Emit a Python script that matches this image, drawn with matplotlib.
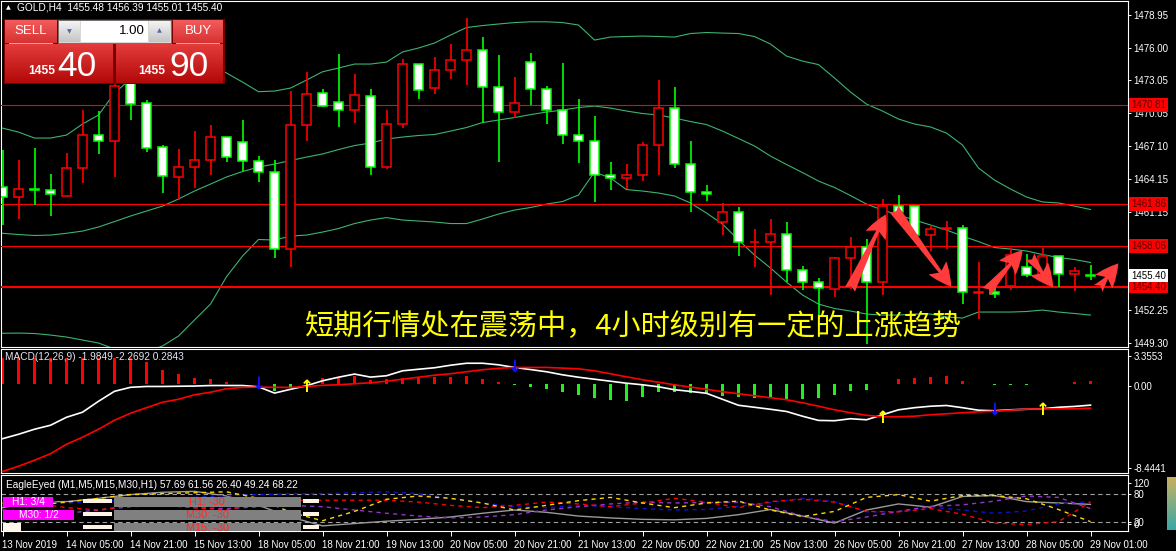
import numpy as np
import matplotlib
matplotlib.use("Agg")
import matplotlib.pyplot as plt
from matplotlib.patches import Rectangle, FancyArrowPatch
from matplotlib.colors import to_rgb

plt.rcParams['font.family'] = ['Liberation Sans', 'DejaVu Sans']

# ---------------- data ----------------
header_text = "GOLD,H4  1455.48 1456.39 1455.01 1455.40"
time_labels = ["13 Nov 2019", "14 Nov 05:00", "14 Nov 21:00", "15 Nov 13:00", "18 Nov 05:00",
               "18 Nov 21:00", "19 Nov 13:00", "20 Nov 05:00", "20 Nov 21:00", "21 Nov 13:00",
               "22 Nov 05:00", "22 Nov 21:00", "25 Nov 13:00", "26 Nov 05:00", "26 Nov 21:00",
               "27 Nov 13:00", "28 Nov 05:00", "29 Nov 01:00"]
label_bars = list(range(0, 69, 4))

opens = [1463.43, 1462.52, 1463.20, 1463.10, 1462.62, 1465.09, 1468.07, 1467.53, 1473.00, 1470.97,
         1466.99, 1464.28, 1465.18, 1465.81, 1467.89, 1467.44, 1465.72, 1464.73, 1457.80, 1468.98,
         1471.87, 1471.06, 1470.33, 1471.60, 1465.18, 1469.07, 1474.49, 1472.32, 1473.95, 1474.85,
         1475.76, 1472.41, 1470.15, 1474.67, 1472.23, 1470.33, 1468.07, 1467.53, 1464.46, 1464.19,
         1464.46, 1467.17, 1470.51, 1465.45, 1462.92, 1460.21, 1461.11, 1458.40, 1458.40, 1459.13,
         1455.87, 1454.79, 1454.15, 1456.95, 1457.95, 1454.79, 1461.71, 1461.66, 1459.04, 1459.58,
         1459.67, 1453.85, 1453.88, 1454.42, 1456.14, 1455.30, 1457.14, 1455.51, 1455.48]
highs = [1466.75, 1465.84, 1466.95, 1464.58, 1466.45, 1470.36, 1470.27, 1474.00, 1474.20, 1471.27,
         1467.17, 1466.84, 1468.46, 1469.01, 1467.95, 1469.46, 1466.23, 1465.84, 1472.11, 1473.83,
         1472.23, 1475.42, 1473.62, 1472.23, 1470.36, 1474.94, 1474.55, 1475.13, 1476.33, 1478.65,
         1476.96, 1475.31, 1473.32, 1475.51, 1472.50, 1474.61, 1471.33, 1469.82, 1465.63, 1465.48,
         1467.44, 1473.07, 1472.41, 1467.53, 1463.55, 1461.93, 1461.57, 1459.58, 1460.48, 1460.24,
         1456.29, 1455.20, 1457.05, 1458.85, 1458.67, 1462.29, 1462.65, 1461.70, 1459.94, 1460.35,
         1459.94, 1456.59, 1454.48, 1457.86, 1457.32, 1457.86, 1457.20, 1456.14, 1456.39]
lows = [1459.97, 1460.51, 1461.77, 1460.78, 1462.50, 1463.79, 1466.38, 1464.28, 1469.46, 1466.59,
        1462.89, 1462.23, 1463.34, 1464.51, 1465.69, 1464.82, 1463.88, 1457.01, 1456.14, 1467.59,
        1470.61, 1468.82, 1469.16, 1464.51, 1465.00, 1468.71, 1471.33, 1471.78, 1473.16, 1472.59,
        1469.16, 1465.66, 1469.67, 1470.79, 1469.10, 1467.29, 1465.57, 1462.07, 1463.16, 1463.25,
        1463.97, 1464.46, 1465.09, 1461.11, 1462.16, 1459.09, 1457.19, 1456.14, 1453.61, 1454.84,
        1454.09, 1451.50, 1453.43, 1454.21, 1449.20, 1453.61, 1460.21, 1459.00, 1457.64, 1457.77,
        1452.85, 1451.44, 1453.34, 1454.06, 1455.24, 1455.00, 1454.33, 1453.97, 1455.01]
closes = [1462.52, 1463.19, 1463.12, 1462.74, 1465.09, 1468.07, 1467.53, 1472.50, 1470.88, 1466.90,
          1464.37, 1465.18, 1465.81, 1467.92, 1466.09, 1465.72, 1464.73, 1457.80, 1468.98, 1471.78,
          1470.72, 1470.33, 1471.69, 1465.18, 1469.07, 1474.49, 1472.14, 1473.95, 1474.85, 1475.76,
          1472.41, 1470.15, 1470.97, 1472.23, 1470.33, 1468.07, 1467.53, 1464.46, 1464.19, 1464.46,
          1467.17, 1470.51, 1465.45, 1462.92, 1462.74, 1461.11, 1458.40, 1458.45, 1459.13, 1455.87,
          1454.79, 1454.24, 1456.95, 1457.95, 1454.79, 1461.71, 1461.11, 1459.04, 1459.58, 1459.68,
          1453.88, 1453.92, 1453.70, 1457.23, 1455.42, 1457.16, 1455.51, 1455.78, 1455.40]

bb_upper = [1468.73, 1468.37, 1467.83, 1467.83, 1468.10, 1469.10, 1469.91, 1471.90, 1473.16, 1473.98,
            1474.34, 1474.70, 1474.70, 1474.52, 1473.71, 1472.89, 1472.02, 1472.08, 1472.35, 1473.07,
            1473.82, 1474.16, 1474.52, 1474.52, 1474.70, 1475.61, 1475.97, 1476.42, 1477.14, 1477.82,
            1478.00, 1478.14, 1478.27, 1478.34, 1478.34, 1478.27, 1478.05, 1476.69, 1476.96, 1477.01,
            1477.05, 1477.01, 1476.96, 1477.28, 1477.37, 1477.32, 1477.28, 1477.01, 1476.33, 1475.24,
            1474.79, 1474.47, 1473.26, 1471.99, 1470.90, 1470.27, 1469.55, 1469.10, 1468.83, 1468.28,
            1467.20, 1465.12, 1464.03, 1463.22, 1462.50, 1462.05, 1461.96, 1461.68, 1461.37]
bb_middle = [1459.22, 1459.11, 1459.02, 1459.06, 1459.22, 1459.42, 1459.79, 1460.28, 1460.78, 1461.23,
             1461.68, 1462.32, 1463.04, 1463.67, 1464.31, 1464.80, 1465.21, 1465.48, 1465.80, 1466.11,
             1466.39, 1466.79, 1467.15, 1467.38, 1467.74, 1467.92, 1468.06, 1468.15, 1468.46, 1468.78,
             1469.23, 1469.46, 1469.68, 1469.95, 1470.18, 1470.36, 1470.59, 1470.72, 1470.54, 1470.27,
             1470.05, 1469.91, 1469.64, 1469.32, 1469.05, 1468.46, 1467.79, 1467.11, 1466.20, 1465.44,
             1464.71, 1463.94, 1463.36, 1462.63, 1461.86, 1461.32, 1460.87, 1460.42, 1459.97, 1459.51,
             1458.97, 1458.47, 1457.93, 1457.80, 1457.62, 1457.30, 1457.03, 1456.85, 1456.58]
bb_lower = [1450.18, 1450.20, 1450.16, 1450.02, 1449.84, 1449.57, 1449.30, 1448.76, 1448.40, 1448.49,
            1449.03, 1449.93, 1451.38, 1452.82, 1455.29, 1457.16, 1458.66, 1458.61, 1458.97, 1459.06,
            1459.33, 1459.65, 1460.10, 1460.42, 1460.64, 1460.42, 1460.33, 1460.24, 1460.10, 1460.10,
            1460.51, 1460.96, 1461.32, 1461.55, 1461.86, 1462.09, 1462.68, 1464.76, 1464.21, 1463.17,
            1463.04, 1462.86, 1462.59, 1461.96, 1461.05, 1460.06, 1458.61, 1457.25, 1456.08, 1454.81,
            1453.64, 1452.82, 1452.42, 1452.19, 1451.92, 1451.83, 1451.83, 1451.92, 1451.92, 1451.65,
            1451.56, 1452.10, 1452.10, 1452.10, 1452.15, 1452.28, 1452.10, 1451.97, 1451.83]

level_prices = [1470.81, 1461.86, 1458.06, 1454.40]
price_ticks = [1478.95, 1476.00, 1473.05, 1470.05, 1467.10, 1464.15, 1461.15, 1458.20, 1455.25, 1452.25, 1449.30]
bid_price = 1455.40

arrow_tails = [(52.97, 1454.15), (55.72, 1461.40), (61.50, 1453.94), (64.22, 1457.10), (68.49, 1454.24)]
arrow_heads = [(55.20, 1460.93), (59.30, 1454.39), (63.76, 1457.70), (65.67, 1454.33), (69.74, 1456.50)]

annotation_text = "短期行情处在震荡中，4小时级别有一定的上涨趋势"

macd_label = "MACD(12,26,9) -1.9849 -2.2692 0.2843"
macd_hist = [2.47, 2.47, 2.47, 2.47, 2.47, 2.47, 2.47, 2.47, 2.47, 2.09,
             1.36, 0.98, 0.64, 0.50, 0.22, 0.05, 0.02, -0.67, -0.24, 0.31,
             0.57, 0.64, 0.83, 0.41, 0.48, 0.57, 0.64, 0.67, 0.73, 0.79,
             0.50, 0.26, -0.07, -0.26, -0.48, -0.69, -1.02, -1.26, -1.52, -1.59,
             -1.21, -0.69, -0.73, -0.86, -0.95, -1.11, -1.17, -1.33, -1.33, -1.43,
             -1.43, -1.33, -1.02, -0.64, -0.57, 0.05, 0.50, 0.64, 0.67, 0.79,
             0.31, 0.07, -0.07, -0.07, -0.07, 0.07, 0.07, 0.19, 0.2843]
macd_main = [-5.18, -4.76, -4.28, -3.90, -3.14, -2.66, -1.62, -0.67, -0.29, -0.21,
             -0.21, -0.19, -0.17, -0.12, -0.12, -0.12, -0.24, -0.84, -0.48, -0.14,
             0.33, 0.67, 0.97, 0.68, 0.81, 1.28, 1.43, 1.57, 1.81, 2.00,
             2.00, 1.85, 1.60, 1.40, 1.19, 0.90, 0.67, 0.48, 0.29, 0.10,
             -0.05, -0.24, -0.52, -0.68, -0.86, -1.43, -2.00, -2.19, -2.38, -2.59,
             -3.04, -3.44, -3.47, -3.28, -3.38, -2.90, -2.43, -2.23, -2.09, -2.02,
             -2.23, -2.47, -2.52, -2.43, -2.38, -2.33, -2.19, -2.11, -1.9849]
macd_signal = [-8.30, -7.80, -7.23, -6.61, -5.71, -5.04, -4.28, -3.42, -2.76, -2.23,
               -1.71, -1.43, -1.00, -0.76, -0.43, -0.30, -0.27, -0.29, -0.30, -0.21,
               -0.10, -0.05, 0.05, 0.14, 0.29, 0.48, 0.67, 0.86, 1.00, 1.19,
               1.38, 1.52, 1.60, 1.60, 1.60, 1.54, 1.47, 1.28, 1.00, 0.71,
               0.43, 0.19, -0.05, -0.27, -0.48, -0.71, -0.90, -1.09, -1.28, -1.47,
               -1.76, -2.09, -2.43, -2.71, -2.95, -3.09, -3.09, -3.04, -2.90, -2.81,
               -2.71, -2.62, -2.57, -2.47, -2.36, -2.35, -2.34, -2.33, -2.2692]
macd_max, macd_min = 3.3553, -8.4441
sell_signals = [(16, 0.03), (32, 1.69), (62, -2.40)]
buy_signals = [(19, -0.26), (55, -3.21), (65, -2.45)]

eagle_label = "EagleEyed (M1,M5,M15,M30,H1) 57.69 61.56 26.40 49.24 68.22"
eagle_bars = list(range(0, 69, 2))
eagle_yellow = [60, 55, 62, 70, 78, 80, 82, 84, 70, 40, 22, 42, 68, 75, 70, 60, 45, 55, 65, 72,
                60, 50, 60, 64, 45, 31, 42, 72, 78, 64, 76, 76, 69, 46, 20]
eagle_red = [55, 60, 50, 45, 55, 60, 50, 45, 60, 66, 66, 66, 66, 62, 55, 50, 55, 62, 58, 52,
             60, 70, 62, 50, 63, 68, 62, 42, 41, 48, 36, 17, 14, 20, 62]
eagle_blue = [70, 65, 60, 62, 68, 70, 72, 76, 78, 80, 80, 82, 84, 80, 70, 60, 52, 50, 55, 52,
              48, 45, 46, 53, 61, 70, 63, 41, 41, 51, 45, 38, 43, 58, 63]
eagle_purple = [45, 40, 38, 45, 52, 55, 50, 48, 52, 55, 52, 45, 38, 32, 28, 30, 35, 45, 52, 58,
                62, 60, 61, 62, 52, 32, 20, 30, 42, 53, 56, 64, 75, 72, 48]
eagle_grey = [50, 63, 63, 70, 78, 83, 85, 75, 55, 30, 11, 16, 21, 25, 30, 38, 45, 40, 32, 28,
              25, 24, 27, 35, 46, 32, 17, 45, 58, 51, 74, 76, 63, 60, 57]
eagle_levels = [80, 20]
eagle_rows = [("H1: 3/4", "H1: -30"), ("M30: 1/2", "M30: -30"), ("", "M15: -30")]

# ---------------- layout helpers ----------------
W, H, DPI = 1176, 551, 100
fig = plt.figure(figsize=(W / DPI, H / DPI), dpi=DPI, facecolor='black')


def rect_px(x0, y0, x1, y1):
    return [x0 / W, 1 - y1 / H, (x1 - x0) / W, (y1 - y0) / H]


BAR0, STEP = 2.5, 16.0
XL = ((1 - BAR0) / STEP, (1128 - BAR0) / STEP)
x = np.arange(len(opens))


def style(a):
    a.set_facecolor('black')
    for s in a.spines.values():
        s.set_color('white')
        s.set_linewidth(0.8)
    a.set_xlim(*XL)
    a.tick_params(axis='x', bottom=False, labelbottom=False)
    a.yaxis.tick_right()
    a.tick_params(axis='y', colors='white', labelcolor='white', labelsize=7,
                  length=2.5, width=0.7, pad=1.5)


# ---------------- main price panel ----------------
ax = fig.add_axes(rect_px(1, 1, 1128, 347))
style(ax)
ax.set_ylim(1448.94, 1480.22)
ax.set_yticks(price_ticks)
ax.set_yticklabels([f"{v:.2f}" for v in price_ticks])

bcol = '#3CB371'
ax.plot(x, bb_upper, color=bcol, lw=0.8, zorder=2)
ax.plot(x, bb_middle, color=bcol, lw=0.8, zorder=2)
ax.plot(x, bb_lower, color=bcol, lw=0.8, zorder=2)

for k, lvl in enumerate(level_prices):
    ax.axhline(lvl, color='#FF0000', lw=1.5 if k == len(level_prices) - 1 else 0.8, zorder=3)

bw = 0.56
for i in range(len(opens)):
    o, h, l, c = opens[i], highs[i], lows[i], closes[i]
    bull = c > o
    ec = '#FF0000' if bull else '#00FF00'
    fc = 'black' if bull else 'white'
    ax.plot([i, i], [l, h], color=ec, lw=1.2, zorder=4, solid_capstyle='butt')
    ax.add_patch(Rectangle((i - bw / 2, min(o, c)), bw, abs(c - o), fc=fc, ec=ec, lw=1.1, zorder=5))

for (tx, ty), (hx, hy) in zip(arrow_tails, arrow_heads):
    ax.add_patch(FancyArrowPatch((tx, ty), (hx, hy),
                                 arrowstyle='fancy,head_length=0.8,head_width=0.75,tail_width=0.38',
                                 mutation_scale=21, color='#FF3B3B', lw=0, zorder=7,
                                 shrinkA=0, shrinkB=0))

for lvl in level_prices:
    ax.annotate(f"{lvl:.2f}", xy=(1, lvl), xycoords=('axes fraction', 'data'),
                xytext=(2.2, 0), textcoords='offset points', ha='left', va='center',
                fontsize=7, color='#5A0000',
                bbox=dict(boxstyle='square,pad=0.18', fc='#FF0000', ec='none'),
                annotation_clip=False, zorder=10)
ax.annotate(f"{bid_price:.2f}", xy=(1, bid_price), xycoords=('axes fraction', 'data'),
            xytext=(2.2, 0), textcoords='offset points', ha='left', va='center',
            fontsize=7, color='black',
            bbox=dict(boxstyle='square,pad=0.18', fc='white', ec='none'),
            annotation_clip=False, zorder=10)

# ---------------- MACD panel ----------------
am = fig.add_axes(rect_px(1, 349, 1128, 473))
style(am)
am.set_ylim(macd_min, macd_max)
hcols = ['#FF0000' if v >= 0 else '#22EE22' for v in macd_hist]
am.bar(x, macd_hist, width=0.22, color=hcols, zorder=2)
am.plot(x, macd_main, color='white', lw=1.2, zorder=3)
am.plot(x, macd_signal, color='#FF0000', lw=1.2, zorder=3)
for (bi, v) in sell_signals:
    am.text(bi, v, "↓", color='#1010FF', fontsize=12, fontweight='bold', ha='center', va='center',
            family='DejaVu Sans', zorder=5)
for (bi, v) in buy_signals:
    am.text(bi, v, "↑", color='#FFFF00', fontsize=12, fontweight='bold', ha='center', va='center',
            family='DejaVu Sans', zorder=5)
am.set_yticks([2.69, -0.13, -7.94])
am.set_yticklabels([f"{macd_max:.4f}", "0.00", f"{macd_min:.4f}"])

# ---------------- EagleEyed panel ----------------
ae = fig.add_axes(rect_px(1, 475, 1128, 531))
style(ae)
ae.set_ylim(0, 120)
for lv in eagle_levels:
    ae.axhline(lv, color='#A0A0A0', lw=0.8, ls=(0, (4, 3)), zorder=1)
ae.plot(eagle_bars, eagle_grey, color='#9A9A9A', lw=1.0, zorder=2)
ae.plot(eagle_bars, eagle_blue, color='#1010D0', lw=1.0, ls=(0, (3, 3)), zorder=3)
ae.plot(eagle_bars, eagle_purple, color='#9932CC', lw=1.0, ls=(0, (3, 3)), zorder=3)
ae.plot(eagle_bars, eagle_red, color='#FF0000', lw=1.0, ls=(0, (3, 3)), zorder=3)
ae.plot(eagle_bars, eagle_yellow, color='#FFD700', lw=1.0, ls=(0, (3, 3)), zorder=3)
ae.set_yticks([103.5, 80, 20, 14.4])
ae.set_yticklabels(["120", "80", "20", "0"])
ae.tick_params(axis='x', bottom=True, labelbottom=True, colors='white', labelcolor='white',
               labelsize=7, length=3.5, width=0.7, pad=3, direction='out')
ae.set_xticks(label_bars)
ae.set_xticklabels(time_labels, ha='left')

# ---------------- overlay (pixel coordinates) ----------------
ov = fig.add_axes([0, 0, 1, 1])
ov.set_axis_off()
ov.patch.set_alpha(0)


def box(x0, y0, x1, y1, fc, ec='none', lw=0.0, z=20):
    ov.add_patch(Rectangle((x0, y0), x1 - x0, y1 - y0, fc=fc, ec=ec, lw=lw, zorder=z))


def grad(x0, y0, x1, y1, ctop, cbot, z=20):
    t = np.linspace(0, 1, 64)[:, None]
    c0, c1 = np.array(to_rgb(ctop)), np.array(to_rgb(cbot))
    img = (c0 * (1 - t) + c1 * t)[:, None, :]
    ov.imshow(img, extent=(x0, x1, y1, y0), origin='upper', aspect='auto',
              zorder=z, interpolation='bilinear')


# header
ov.text(8, 8, "▲", color='white', fontsize=4.5, ha='center', va='center', family='DejaVu Sans', zorder=30)
ov.text(17, 8, header_text, color='white', fontsize=7.3, ha='left', va='center', zorder=30)

# trade panel
box(4, 19, 225, 84, '#7A0000', z=19)
grad(5, 20, 57, 43, '#F45C5C', '#D63232')
grad(173, 20, 223, 43, '#F45C5C', '#D63232')
grad(5, 44, 113, 83, '#E43C3C', '#B20808')
grad(116, 44, 223, 83, '#E43C3C', '#B20808')
box(9, 42.5, 53, 43.5, '#F49A9A', z=21)
box(176, 42.5, 220, 43.5, '#F49A9A', z=21)
box(58, 20, 171, 43, '#D8D8D8', ec='#707070', lw=0.6, z=21)
grad(59, 21, 80, 42, '#F4F4F4', '#C4C4C4', z=22)
grad(149, 21, 170, 42, '#F4F4F4', '#C4C4C4', z=22)
box(81, 21, 148, 42, 'white', z=22)
ov.text(69.5, 31.5, "▼", color='#5868A8', fontsize=4.5, ha='center', va='center', family='DejaVu Sans', zorder=30)
ov.text(159.5, 31.0, "▲", color='#5868A8', fontsize=4.5, ha='center', va='center', family='DejaVu Sans', zorder=30)
ov.text(145, 31.5, "1.00", color='black', fontsize=9.5, ha='right', va='center', zorder=30)
ov.text(31, 31.5, "SELL", color='white', fontsize=9.5, ha='center', va='center', zorder=30)
ov.text(198, 31.5, "BUY", color='white', fontsize=9.5, ha='center', va='center', zorder=30)
ov.text(28, 74.5, "1455", color='white', fontsize=8.7, fontweight='bold', ha='left', va='baseline', zorder=30)
ov.text(57, 76, "40", color='white', fontsize=25.5, ha='left', va='baseline', zorder=30)
ov.text(138, 74.5, "1455", color='white', fontsize=8.7, fontweight='bold', ha='left', va='baseline', zorder=30)
ov.text(169, 76, "90", color='white', fontsize=25.5, ha='left', va='baseline', zorder=30)

# annotation text
ov.text(305, 327, annotation_text, color='#FFFF00', fontsize=21, ha='left', va='center',
        family=['Noto Sans CJK SC', 'DejaVu Sans'], zorder=30)

# panel titles
ov.text(5, 357, macd_label, color='#E4E4F4', fontsize=7.3, ha='left', va='center', zorder=30)
ov.text(6, 485, eagle_label, color='white', fontsize=7.3, ha='left', va='center', zorder=30)

# EagleEyed overlay boxes
clip = Rectangle((1, 475), 1127, 56, transform=ov.transData)
row_y = [(497, 507), (510, 520), (523, 533)]
for k, ((y0, y1), (left_txt, mid_txt)) in enumerate(zip(row_y, eagle_rows)):
    y1c = min(y1, 531)
    if k < 2:
        box(3, y0, 53 if k == 0 else 74, y1c, '#FF00FF', z=20)
        ov.text(28 if k == 0 else 38.5, (y0 + y1c) / 2 + 0.3, left_txt, color='white', fontsize=7.3,
                ha='center', va='center', zorder=30)
    else:
        box(3, y0, 21, y1c, '#FFF6EC', z=20)
    box(83, y0 + 2, 112, min(y0 + 6, 531), '#FFF4E4', z=20)
    box(303, y0 + 2, 319, min(y0 + 6, 531), '#FFF4E4', z=20)
    box(114, y0, 301, y1c, '#808080', z=20)
    t = ov.text(207, (y0 + y1) / 2 + 0.3, mid_txt, color='#FF2A2A', fontsize=7.8,
                ha='center', va='center', zorder=30)
    t.set_clip_path(clip)
    t.set_clip_on(True)

grad(1167, 477, 1176, 530, '#C8B060', '#3AA8A8', z=20)

ov.set_xlim(0, W)
ov.set_ylim(H, 0)

fig.savefig("out.png", dpi=DPI, facecolor='black')
